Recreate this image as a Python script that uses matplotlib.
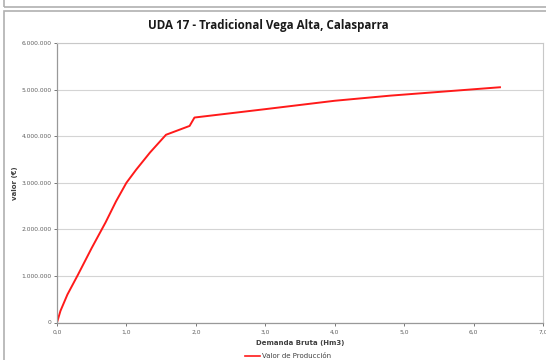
import matplotlib
matplotlib.use('Agg')
import matplotlib.pyplot as plt
from matplotlib.patches import Rectangle
from matplotlib.ticker import FuncFormatter

# Demanda bruta (Hm3) vs valor de produccion (EUR)
demanda = [0.0, 0.05, 0.15, 0.30, 0.50, 0.70, 0.85, 1.0, 1.14, 1.34, 1.57, 1.91, 1.98, 3.0, 4.0, 4.8, 6.38]
valor = [0, 250000, 600000, 1020000, 1600000, 2150000, 2600000, 3000000, 3280000, 3650000, 4030000,
         4220000, 4400000, 4580000, 4760000, 4870000, 5050000]

title = 'UDA 17 - Tradicional Vega Alta, Calasparra'
xlabel = 'Demanda Bruta (Hm3)'
ylabel = 'valor (€)'
legend_label = 'Valor de Producción'

fig = plt.figure(figsize=(5.46, 3.6), dpi=100)
W, H = 546, 360

# outer frames (bottom edge of the box above and the chart box)
fig.patches.append(Rectangle((4 / W, (H - 7) / H), 1.2, 0.2, transform=fig.transFigure,
                             fill=False, edgecolor='#b0b0b0', linewidth=1.2, zorder=0))
fig.patches.append(Rectangle((4 / W, -0.1), 1.2, (H - 11) / H + 0.1, transform=fig.transFigure,
                             fill=False, edgecolor='#b0b0b0', linewidth=1.2, zorder=0))

ax = fig.add_axes([57 / W, 1 - 322.5 / H, (543 - 57) / W, (322.5 - 43) / H])
ax.plot(demanda, valor, color='#ff1a1a', linewidth=1.4)

ax.set_xlim(0, 7)
ax.set_ylim(0, 6000000)
ax.set_xticks(range(0, 8))
ax.set_yticks(range(0, 6000001, 1000000))
ax.xaxis.set_major_formatter(FuncFormatter(lambda v, p: f'{v:.1f}'.replace('.', ',')))
ax.yaxis.set_major_formatter(FuncFormatter(lambda v, p: f'{int(v):,}'.replace(',', '.')))
ax.tick_params(labelsize=4.3, colors='#606060', length=2, width=0.6, pad=2)
ax.tick_params(axis='x', pad=3)
ax.grid(axis='y', color='#d4d4d4', linewidth=0.8)
ax.set_axisbelow(True)
for side in ['top', 'right']:
    ax.spines[side].set_color('#c8c8c8')
    ax.spines[side].set_linewidth(0.8)
for side in ['left', 'bottom']:
    ax.spines[side].set_color('#999999')
    ax.spines[side].set_linewidth(0.9)

ax.set_xlabel(xlabel, fontsize=5, fontweight='bold', color='#404040', labelpad=4)
ax.set_ylabel(ylabel, fontsize=5, fontweight='bold', color='#404040')
ax.yaxis.set_label_coords(-0.08, 0.5)
fig.text(268 / W, 1 - 25 / H, title, ha='center', va='center', fontsize=8.4,
         fontweight='bold', family='Open Sans', color='#1a1a1a')

# legend entry at bottom
fig.lines.append(plt.Line2D([245 / W, 260 / W], [1 - 356 / H] * 2, transform=fig.transFigure,
                            color='#ff1a1a', linewidth=1.2))
fig.text(262 / W, 1 - 356 / H, legend_label, fontsize=5, color='#404040', va='center')

fig.savefig('out.png', dpi=100)
